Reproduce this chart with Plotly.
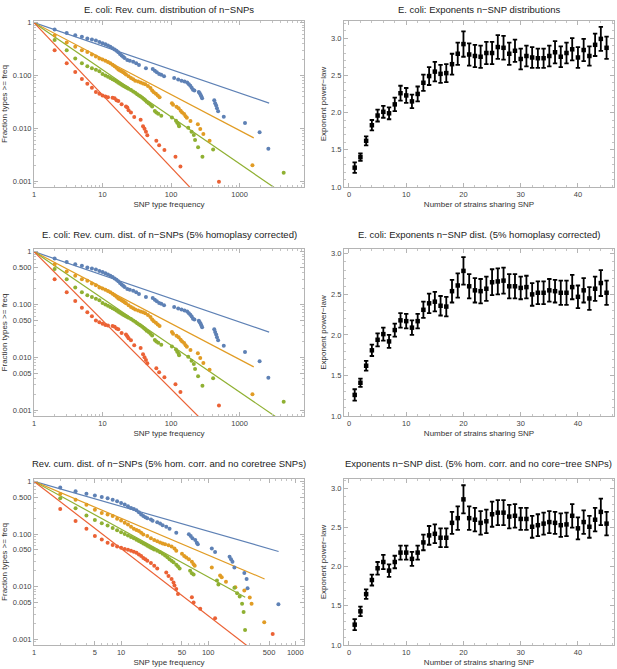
import plotly.graph_objects as go
from plotly.subplots import make_subplots

blue, orange, green, red = '#5E81B5', '#E19C24', '#8FB032', '#EB6235'

#%% Reverse cumulative distributions, raw n-SNPs (row 1, left)

a_blue_x = [2,3,4,5,6,7,8,9,10,11,12,13,14,15,16,17,18,19,20,21,23,25,28,31,34,43,54,58,62,67,72,79,
            111,127,142,157,172,182,191,200,209,219,254,262,270,277,284,427,440,455,468,486,588,1200,1960,2630]
a_blue_y = [0.74,0.64,0.58,0.54,0.50,0.48,0.46,0.43,0.41,0.39,0.37,0.35,0.33,0.31,0.295,0.275,0.255,0.24,0.227,0.214,
            0.196,0.19,0.182,0.17,0.158,0.138,0.133,0.123,0.115,0.107,0.103,0.097,
            0.090,0.084,0.080,0.077,0.074,0.068,0.064,0.059,0.054,0.052,0.049,0.046,0.043,0.040,0.037,
            0.034,0.030,0.027,0.024,0.021,0.0166,0.0126,0.0084,0.0041]
a_orange_x = [2,3,4,5,6,7,8,9,10,11,12,13,14,15,16,17,18,19,20,21,22,24,26,28,30,33,36,39,42,46,50,53,56,60,64,68,
              103,107,120,129,138,145,155,163,170,192,246,267,296,365,1540]
a_orange_y = [0.57,0.42,0.35,0.30,0.28,0.25,0.23,0.21,0.20,0.19,0.18,0.17,0.16,0.15,0.14,0.13,0.125,0.12,0.115,0.11,
              0.105,0.097,0.09,0.085,0.08,0.077,0.074,0.071,0.068,0.063,0.058,0.052,0.048,0.045,0.042,0.039,
              0.030,0.028,0.0257,0.024,0.0215,0.020,0.0187,0.017,0.0159,0.0138,0.012,0.0097,0.0078,0.0058,0.0020]
a_green_x = [2,3,4,5,6,7,8,9,10,11,12,13,14,15,16,17,18,19,20,21,22,23,24,26,28,30,32,34,36,38,40,42,44,47,50,53,
             58,61,65,72,103,118,123,129,131,178,199,215,224,248,287,411,4400]
a_green_y = [0.47,0.30,0.21,0.17,0.15,0.138,0.128,0.12,0.107,0.1,0.095,0.09,0.085,0.081,0.077,0.073,0.07,0.067,0.064,
             0.062,0.06,0.058,0.056,0.053,0.05,0.047,0.044,0.042,0.040,0.038,0.036,0.034,0.032,0.030,0.028,0.026,
             0.0213,0.020,0.0188,0.0173,0.016,0.014,0.0128,0.0117,0.011,0.0103,0.0086,0.0075,0.006,0.0044,0.0029,0.004,0.00145]
a_red_x = [2,3,4,5,6,7,8,9,10,11,12,14,15,16,17,19,22,23,24,26,29,36,39,41,43,45,61,67,80,116,137,500]
a_red_y = [0.30,0.17,0.116,0.086,0.070,0.059,0.049,0.045,0.042,0.040,0.039,0.038,0.037,0.034,0.033,0.0286,
           0.026,0.0248,0.022,0.020,0.0164,0.0146,0.011,0.0098,0.0086,0.0074,0.0058,0.0048,0.0039,0.0029,0.0019,0.00098]
# power-law fits, start and end points
a_fit_x = [[1, 2700], [1, 1610], [1, 5000], [1, 1000]]
a_fit_y = [[1, 0.030], [1, 0.0066], [1, 0.00051], [1, 0.000078]]

#%% 5% homoplasy corrected (row 2, left)

b_blue_x = a_blue_x
b_blue_y = a_blue_y
b_orange_x = a_orange_x
b_orange_y = a_orange_y
b_green_x = a_green_x
b_green_y = a_green_y
b_red_x = [2,3,4,5,6,7,8,9,10,11,12,14,15,16,17,19,22,23,24,26,29,36,39,41,43,45,61,67,80,116,137,500]
b_red_y = [0.30,0.17,0.117,0.087,0.071,0.060,0.050,0.046,0.043,0.041,0.040,0.039,0.038,0.035,0.034,0.029,
           0.027,0.025,0.023,0.021,0.017,0.015,0.0115,0.010,0.0089,0.0077,0.0062,0.0052,0.0042,0.0031,0.0022,0.00123]
b_fit_x = [[1, 2700], [1, 1610], [1, 5000], [1, 1000]]
b_fit_y = [[1, 0.030], [1, 0.0066], [1, 0.00053], [1, 0.000126]]

#%% 5% hom. corrected, no core-tree SNPs (row 3, left)

c_blue_x = [2,3,4,5,6,7,8,9,10,11,12,13,14,15,16,17,18,19,20,22,23,26,28,30,33,36,43,60,63,66,71,74,76,
            110,120,176,183,190,200,260,276,283,640]
c_blue_y = [0.77,0.65,0.585,0.537,0.506,0.478,0.45,0.42,0.39,0.363,0.338,0.314,0.30,0.284,0.26,0.235,0.219,0.209,0.20,
            0.189,0.179,0.168,0.159,0.146,0.138,0.126,0.106,0.0986,0.0917,0.083,0.077,0.0686,0.0638,
            0.0529,0.0457,0.037,0.0333,0.0296,0.0232,0.0181,0.014,0.0093,0.0046]
c_orange_x = [2,3,4,5,6,7,8,9,10,11,12,13,14,15,16,17,18,20,22,24,26,28,30,32,35,38,41,43,
              50,53,56,60,65,68,70,110,137,143,160,205,260,300,315,440]
c_orange_y = [0.577,0.45,0.36,0.29,0.25,0.235,0.22,0.195,0.18,0.164,0.152,0.137,0.126,0.119,0.114,0.106,0.098,
              0.0915,0.083,0.077,0.073,0.069,0.066,0.064,0.061,0.058,0.053,0.048,
              0.042,0.038,0.0357,0.0333,0.0296,0.0267,0.0249,0.023,0.0162,0.015,0.0124,0.0097,0.0084,0.0062,0.0047,0.0021]
c_green_x = [2,3,4,5,6,7,8,9,10,11,12,13,14,15,16,17,18,19,20,21,22,23,24,26,28,30,32,34,36,38,40,43,45,47,
             62,65,68,126,131,200,215,230,245,255,265]
c_green_y = [0.48,0.31,0.225,0.185,0.16,0.145,0.13,0.118,0.108,0.1,0.094,0.088,0.083,0.078,0.074,0.07,0.066,0.063,
             0.06,0.057,0.055,0.053,0.051,0.048,0.045,0.042,0.039,0.036,0.033,0.031,0.029,0.026,0.024,0.022,
             0.02,0.018,0.017,0.013,0.011,0.0095,0.0075,0.0065,0.0047,0.0033,0.0015]
c_red_x = [2,3,4,5,6,7,8,9,10,11,12,13,14,15,16,17,18,19,20,22,24,26,33,35,38,40,41,43,45,65,68,81,120,550]
c_red_y = [0.30,0.176,0.126,0.092,0.079,0.068,0.062,0.058,0.055,0.052,0.05,0.048,0.046,0.044,0.041,0.038,0.035,0.033,
           0.031,0.028,0.025,0.022,0.0186,0.016,0.014,0.012,0.0105,0.009,0.0072,0.0063,0.005,0.0038,0.0025,0.00126]
c_fit_x = [[1, 643], [1, 444], [1, 266], [1, 1000]]
c_fit_y = [[1, 0.0466], [1, 0.014], [1, 0.0063], [1, 0.000148]]

#%% Exponents vs number of strains sharing SNP (right column)

n_strains = list(range(1, 46))
exp_raw = [1.26,1.40,1.62,1.83,1.96,2.01,1.99,2.11,2.26,2.23,2.15,2.25,2.40,2.49,2.55,2.52,2.53,2.65,2.79,2.92,
           2.78,2.76,2.75,2.80,2.80,2.88,2.87,2.79,2.83,2.72,2.76,2.74,2.73,2.73,2.76,2.81,2.75,2.80,2.85,2.74,
           2.84,2.76,2.91,2.99,2.87]
err_raw = [0.07,0.05,0.06,0.07,0.08,0.08,0.08,0.09,0.10,0.10,0.09,0.10,0.11,0.12,0.13,0.12,0.12,0.14,0.15,0.17,
           0.15,0.15,0.15,0.15,0.15,0.16,0.16,0.15,0.15,0.14,0.14,0.14,0.13,0.13,0.14,0.15,0.14,0.14,0.15,0.14,
           0.15,0.13,0.15,0.16,0.15]
exp_hom = [1.26,1.41,1.62,1.81,1.94,2.01,1.92,2.06,2.18,2.17,2.09,2.17,2.31,2.39,2.41,2.36,2.35,2.54,2.61,2.79,
           2.60,2.55,2.54,2.57,2.65,2.66,2.67,2.60,2.60,2.58,2.59,2.50,2.52,2.52,2.55,2.54,2.52,2.52,2.59,2.47,
           2.55,2.45,2.57,2.64,2.52]
err_hom = [0.07,0.05,0.06,0.07,0.08,0.08,0.08,0.08,0.09,0.09,0.09,0.09,0.10,0.12,0.12,0.12,0.12,0.14,0.15,0.17,
           0.15,0.15,0.15,0.15,0.16,0.16,0.16,0.15,0.15,0.14,0.14,0.14,0.14,0.14,0.14,0.14,0.15,0.15,0.15,0.14,
           0.15,0.14,0.15,0.16,0.15]
exp_core = [1.26,1.43,1.65,1.83,1.98,2.06,1.95,2.06,2.18,2.18,2.10,2.18,2.31,2.40,2.42,2.37,2.37,2.56,2.62,2.86,
            2.62,2.60,2.56,2.58,2.67,2.69,2.69,2.64,2.65,2.61,2.61,2.51,2.53,2.55,2.57,2.56,2.53,2.54,2.65,2.49,
            2.57,2.51,2.60,2.70,2.55]
err_core = [0.07,0.06,0.06,0.07,0.08,0.09,0.08,0.08,0.09,0.09,0.09,0.09,0.10,0.12,0.12,0.12,0.12,0.14,0.15,0.18,
            0.15,0.15,0.15,0.15,0.16,0.16,0.16,0.15,0.15,0.14,0.14,0.14,0.14,0.14,0.14,0.14,0.15,0.15,0.15,0.14,
            0.15,0.14,0.15,0.17,0.15]

titles = ['E. coli: Rev. cum. distribution of n\u2212SNPs',
          'E. coli: Exponents n\u2212SNP distributions',
          'E. coli: Rev. cum. dist. of n\u2212SNPs (5% homoplasy corrected)',
          'E. coli: Exponents n\u2212SNP dist. (5% homoplasy corrected)',
          'Rev. cum. dist. of n\u2212SNPs (5% hom. corr. and no coretree SNPs)',
          'Exponents n\u2212SNP dist. (5% hom. corr. and no core\u2212tree SNPs)']

#%% Plotting

W, H = 617, 669
col_dom = {1: [34/W, 304/W], 2: [344/W, 614/W]}
row_px = {1: (21, 187), 2: (249, 416), 3: (479, 645)}
row_dom = {r: [1 - b/H, 1 - t/H] for r, (t, b) in row_px.items()}
title_y = {1: 9, 2: 234, 3: 463}

fig = make_subplots(rows=3, cols=2)

left_panels = [
    (1, [(a_blue_x, a_blue_y), (a_orange_x, a_orange_y), (a_green_x, a_green_y), (a_red_x, a_red_y)], a_fit_x, a_fit_y),
    (2, [(b_blue_x, b_blue_y), (b_orange_x, b_orange_y), (b_green_x, b_green_y), (b_red_x, b_red_y)], b_fit_x, b_fit_y),
    (3, [(c_blue_x, c_blue_y), (c_orange_x, c_orange_y), (c_green_x, c_green_y), (c_red_x, c_red_y)], c_fit_x, c_fit_y),
]
colors = [blue, orange, green, red]

for row, series, fx, fy in left_panels:
    for k, (sx, sy) in enumerate(series):
        fig.add_trace(go.Scatter(x=fx[k], y=fy[k], mode='lines', line=dict(color=colors[k], width=1.2),
                                 showlegend=False, hoverinfo='skip'), row=row, col=1)
    for k, (sx, sy) in enumerate(series):
        fig.add_trace(go.Scatter(x=sx, y=sy, mode='markers', marker=dict(color=colors[k], size=4),
                                 showlegend=False), row=row, col=1)

for row, ey, ee in [(1, exp_raw, err_raw), (2, exp_hom, err_hom), (3, exp_core, err_core)]:
    fig.add_trace(go.Scatter(x=n_strains, y=ey, mode='markers',
                             marker=dict(color='black', size=4.5, symbol='square'),
                             error_y=dict(type='data', array=ee, thickness=1.8, width=2.2, color='black'),
                             showlegend=False), row=row, col=2)

frame = dict(showline=True, linecolor='#b4b4b4', linewidth=1, mirror='ticks', ticks='inside', ticklen=4,
             tickcolor='#b4b4b4', tickwidth=0.8, showgrid=False, zeroline=False, automargin=False,
             tickfont=dict(family='Liberation Sans', size=7.5, color='#444'))
label_font = dict(family='Liberation Sans', size=8, color='#333')

log_minor = [m * 10**d for d in range(-4, 4) for m in range(2, 10)]
xr_log = {1: [0, 3.94], 2: [0, 3.94], 3: [0, 3.10]}
yr_log = {1: [-3.11, 0.032], 2: [-3.11, 0.05], 3: [-3.11, 0.046]}
yr_exp = {1: [1.0, 3.23], 2: [1.0, 3.06], 3: [1.0, 3.12]}

for row in (1, 2, 3):
    if row == 3:
        xt, xtt = [1, 5, 10, 50, 100, 500, 1000], ['1', '5', '10', '50', '100', '500', '1000']
    else:
        xt, xtt = [1, 10, 100, 1000], ['1', '10', '100', '1000']
    if row == 1:
        yt, ytt = [1, 0.1, 0.01, 0.001], ['1', '0.100', '0.010', '0.001']
    else:
        yt = [1, 0.5, 0.1, 0.05, 0.01, 0.005, 0.001]
        ytt = ['1', '0.500', '0.100', '0.050', '0.010', '0.005', '0.001']
    fig.update_xaxes(frame, type='log', domain=col_dom[1], range=xr_log[row], tickvals=xt, ticktext=xtt,
                     minor=dict(ticks='inside', ticklen=2, tickcolor='#c4c4c4', tickvals=log_minor),
                     title=dict(text='SNP type frequency', font=label_font, standoff=3), row=row, col=1)
    fig.update_yaxes(frame, type='log', domain=row_dom[row], range=yr_log[row], tickvals=yt, ticktext=ytt,
                     minor=dict(ticks='inside', ticklen=2, tickcolor='#c4c4c4', tickvals=log_minor),
                     title=dict(text='Fraction types >= freq', font=label_font, standoff=3), row=row, col=1)
    fig.update_xaxes(frame, domain=col_dom[2], range=[-0.87, 46.3], tickvals=[0, 10, 20, 30, 40],
                     minor=dict(ticks='inside', ticklen=2, tickcolor='#c4c4c4', tick0=0, dtick=2),
                     title=dict(text='Number of strains sharing SNP', font=label_font, standoff=3), row=row, col=2)
    fig.update_yaxes(frame, domain=row_dom[row], range=yr_exp[row], tickvals=[1.0, 1.5, 2.0, 2.5, 3.0],
                     ticktext=['1.0', '1.5', '2.0', '2.5', '3.0'],
                     minor=dict(ticks='inside', ticklen=2, tickcolor='#c4c4c4', tick0=1, dtick=0.1),
                     title=dict(text='Exponent power\u2212law', font=label_font, standoff=3), row=row, col=2)

for i, t in enumerate(titles):
    row, col = i // 2 + 1, i % 2 + 1
    fig.add_annotation(text=t, xref='paper', yref='paper', showarrow=False,
                       x=sum(col_dom[col]) / 2, y=1 - title_y[row] / H, xanchor='center', yanchor='middle',
                       font=dict(family='Liberation Sans', size=9.5, color='#222'))

fig.update_layout(width=W, height=H, margin=dict(l=0, r=0, t=0, b=0),
                  paper_bgcolor='white', plot_bgcolor='white',
                  font=dict(family='Liberation Sans', color='#333'))

# drop the default page margin so the figure sits at the window's corner
fig.write_html('out.html', config={'displayModeBar': False},
               post_script="document.body.style.margin='0';")
